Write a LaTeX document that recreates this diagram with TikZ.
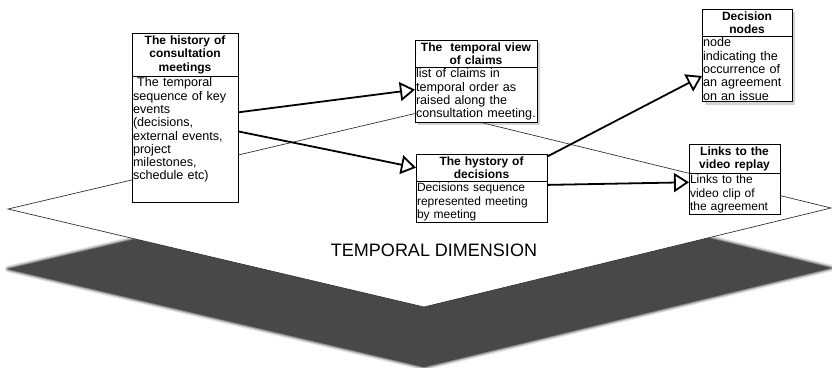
\documentclass[tikz,border=0pt]{standalone}
\usepackage{fontspec}
\setmainfont{Liberation Sans}
\usetikzlibrary{positioning,arrows.meta,shadows}
\definecolor{shadowgray}{HTML}{484848}

\begin{document}
\begin{tikzpicture}[x=1pt,y=-1pt,
    every node/.append style={font=\fontsize{12.6}{13.3}\selectfont},
    boxhead/.style={draw, fill=white, line width=.8pt, outer sep=0pt, text width=#1,
                    align=center, inner xsep=1pt, inner ysep=2.5pt,
                    font=\fontsize{12}{13.5}\selectfont\bfseries},
    boxtext/.style={draw, fill=white, line width=.8pt, outer sep=0pt, text width=#1,
                    align=left, inner xsep=1pt, inner ysep=1.5pt},
    smalltext/.style={font=\fontsize{12}{13.5}\selectfont},
    boxshadow/.style={drop shadow={shadow xshift=2.5pt, shadow yshift=-3pt, opacity=.35}},
    linkarrow/.style={line width=1.8pt, -{Triangle[length=15pt, width=19pt, fill=white]}},
    planeface/.style={fill=white, draw=black!80, line width=.7pt}]
    \useasboundingbox (0,0) rectangle (832,367);

    % the plane and its shadow
    \coordinate (pw) at (8,209);
    \coordinate (pn) at (430,110);
    \coordinate (pe) at (831,208);
    \coordinate (ps) at (424,307);
    \foreach \w/\o in {7/.12, 5/.2, 3/.3, 1.5/.5}
      \draw[shadowgray, line width=\w pt, opacity=\o, line join=round]
        ([yshift=-60pt]pw) -- ([yshift=-60pt]ps) -- ([yshift=-60pt]pe) -- ([yshift=-60pt]pn) -- cycle;
    \fill[shadowgray] ([yshift=-60pt]pw) -- ([yshift=-60pt]ps) -- ([yshift=-60pt]pe) -- ([yshift=-60pt]pn) -- cycle;
    \draw[planeface] (pw) -- (pn) -- (pe) -- (ps) -- cycle;
    \node[font=\fontsize{18}{20}\selectfont] (dim) at (434,250) {TEMPORAL DIMENSION};

    \node[boxhead=104pt, anchor=north west] (histhead) at (132,33)
      {The history of\\ consultation\\ meetings};
    \node[boxtext=104pt, below=0pt of histhead] (histbody)
      {\ The temporal\\ sequence of key\\ events\\ (decisions,\\ external events,\\ project\\ milestones,\\ schedule etc)\rule[-21pt]{0pt}{1pt}};

    \node[boxhead=120pt, boxshadow, anchor=north west] (claimhead) at (415,40)
      {The\ \ temporal view\\ of claims};
    \node[boxtext=120pt, boxshadow, below=0pt of claimhead] (claimbody)
      {list of claims in\\ temporal order as\\ raised along the\\ consultation meeting.};

    \node[boxhead=129pt, anchor=north west] (dechead) at (416,154)
      {The hystory of\\ decisions};
    \node[boxtext=129pt, smalltext, below=0pt of dechead] (decbody)
      {Decisions sequence\\ represented meeting\\ by meeting};

    \node[boxhead=88pt, boxshadow, anchor=north west] (nodehead) at (702,9)
      {Decision\\ nodes};
    \node[boxtext=88pt, boxshadow, below=0pt of nodehead] (nodebody)
      {node\\ indicating the\\ occurrence of\\ an agreement\\ on an issue};

    \node[boxhead=89pt, anchor=north west] (videohead) at (689,144)
      {Links to the\\ video replay};
    \node[boxtext=89pt, smalltext, below=0pt of videohead] (videobody)
      {Links to the\\ video clip of\\ the agreement};

    \draw[linkarrow] ([yshift=27pt]histbody.east) -- ([yshift=5pt]claimbody.west);
    \draw[linkarrow] ([yshift=8pt]histbody.east) -- (dechead.west);
    \draw[linkarrow] ([yshift=11pt]dechead.east) -- ([yshift=-7pt]nodebody.west);
    \draw[linkarrow] ([yshift=17pt]decbody.east) -- ([yshift=12pt]videobody.west);
\end{tikzpicture}
\end{document}
